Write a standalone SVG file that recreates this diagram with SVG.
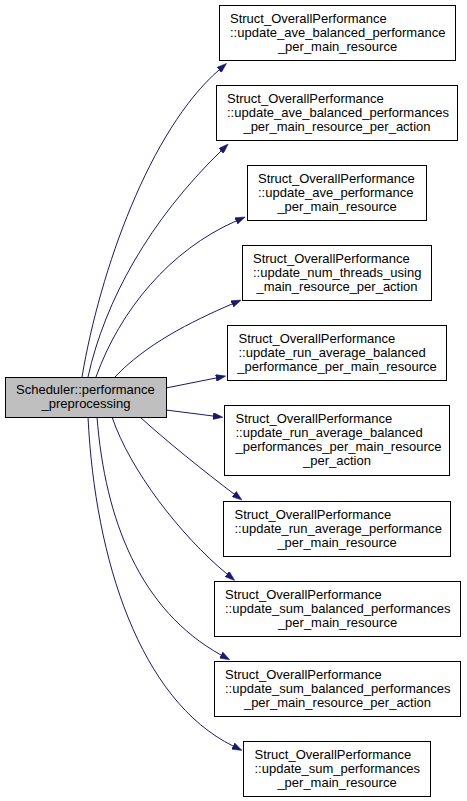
<svg xmlns="http://www.w3.org/2000/svg" width="467" height="801" viewBox="0 0 467 801">
<style>
  .box { fill: #ffffff; stroke: #000000; stroke-width: 1; }
  .main { fill: #bfbfbf; stroke: #000000; stroke-width: 1; }
  text { font-family: "Liberation Sans", Arial, Helvetica, sans-serif; font-size: 13px; fill: #000000; }
  .l { text-anchor: start; }
  .c { text-anchor: middle; }
  .edge { fill: none; stroke: #191970; stroke-width: 1; marker-end: url(#arrow); }
</style>
<defs>
  <marker id="arrow" viewBox="0 0 10 7" refX="0" refY="3.5" markerWidth="10" markerHeight="7" markerUnits="userSpaceOnUse" orient="auto">
    <path d="M0,0 L10,3.5 L0,7 z" fill="#191970" stroke="#191970" stroke-width="0.5"/>
  </marker>
</defs>
<rect width="467" height="801" fill="#ffffff"/>
<g id="connectors">
  <path class="edge" d="M82,377 C100,270 150,130 219,70"/>
  <path class="edge" d="M88,377 C105,300 150,220 221,151"/>
  <path class="edge" d="M96,377 C120,310 170,250 236,221"/>
  <path class="edge" d="M115,377 C145,345 190,322 232,304"/>
  <path class="edge" d="M166,388 L216,378"/>
  <path class="edge" d="M166,410 L213,416"/>
  <path class="edge" d="M140,417 C165,440 205,472 234,494"/>
  <path class="edge" d="M112,417 C130,470 180,535 227,574"/>
  <path class="edge" d="M97,417 C105,520 140,610 221,655"/>
  <path class="edge" d="M88,417 C95,560 140,700 233,746"/>
</g>
<g id="main">
  <rect class="main" x="5.5" y="377.5" width="161" height="40"/>
  <text class="l" x="16" y="393.5">Scheduler::performance</text>
  <text class="c" x="86" y="407.5">_preprocessing</text>
</g>
<g id="n1">
  <rect class="box" x="219.5" y="5.5" width="236" height="55"/>
  <text class="l" x="230" y="22.5">Struct_OverallPerformance</text>
  <text class="l" x="230" y="36.5">::update_ave_balanced_performance</text>
  <text class="c" x="337.5" y="50.5">_per_main_resource</text>
</g>
<g id="n2">
  <rect class="box" x="216.5" y="85.5" width="241" height="55"/>
  <text class="l" x="227" y="102.5">Struct_OverallPerformance</text>
  <text class="l" x="227" y="116.5">::update_ave_balanced_performances</text>
  <text class="c" x="337" y="130.5">_per_main_resource_per_action</text>
</g>
<g id="n3">
  <rect class="box" x="247.5" y="165.5" width="179" height="55"/>
  <text class="l" x="258" y="182.5">Struct_OverallPerformance</text>
  <text class="l" x="258" y="196.5">::update_ave_performance</text>
  <text class="c" x="337" y="210.5">_per_main_resource</text>
</g>
<g id="n4">
  <rect class="box" x="242.5" y="245.5" width="189" height="55"/>
  <text class="l" x="253" y="262.5">Struct_OverallPerformance</text>
  <text class="l" x="253" y="276.5">::update_num_threads_using</text>
  <text class="c" x="337" y="290.5">_main_resource_per_action</text>
</g>
<g id="n5">
  <rect class="box" x="227.5" y="325.5" width="219" height="55"/>
  <text class="l" x="238.5" y="342.5">Struct_OverallPerformance</text>
  <text class="l" x="238.5" y="356.5">::update_run_average_balanced</text>
  <text class="c" x="337" y="370.5">_performance_per_main_resource</text>
</g>
<g id="n6">
  <rect class="box" x="224.5" y="405.5" width="225" height="70"/>
  <text class="l" x="235.5" y="422.5">Struct_OverallPerformance</text>
  <text class="l" x="235.5" y="436.5">::update_run_average_balanced</text>
  <text class="l" x="235.5" y="450.5">_performances_per_main_resource</text>
  <text class="c" x="337" y="464.5">_per_action</text>
</g>
<g id="n7">
  <rect class="box" x="223.5" y="501.5" width="227" height="55"/>
  <text class="l" x="234.5" y="518.5">Struct_OverallPerformance</text>
  <text class="l" x="234.5" y="532.5">::update_run_average_performance</text>
  <text class="c" x="337" y="546.5">_per_main_resource</text>
</g>
<g id="n8">
  <rect class="box" x="214.5" y="581.5" width="246" height="55"/>
  <text class="l" x="225" y="598.5">Struct_OverallPerformance</text>
  <text class="l" x="225" y="612.5">::update_sum_balanced_performances</text>
  <text class="c" x="337.5" y="626.5">_per_main_resource</text>
</g>
<g id="n9">
  <rect class="box" x="214.5" y="661.5" width="246" height="55"/>
  <text class="l" x="225" y="678.5">Struct_OverallPerformance</text>
  <text class="l" x="225" y="692.5">::update_sum_balanced_performances</text>
  <text class="c" x="337.5" y="706.5">_per_main_resource_per_action</text>
</g>
<g id="n10">
  <rect class="box" x="243.5" y="741.5" width="187" height="55"/>
  <text class="l" x="254.5" y="758.5">Struct_OverallPerformance</text>
  <text class="l" x="254.5" y="772.5">::update_sum_performances</text>
  <text class="c" x="337" y="786.5">_per_main_resource</text>
</g>
</svg>
